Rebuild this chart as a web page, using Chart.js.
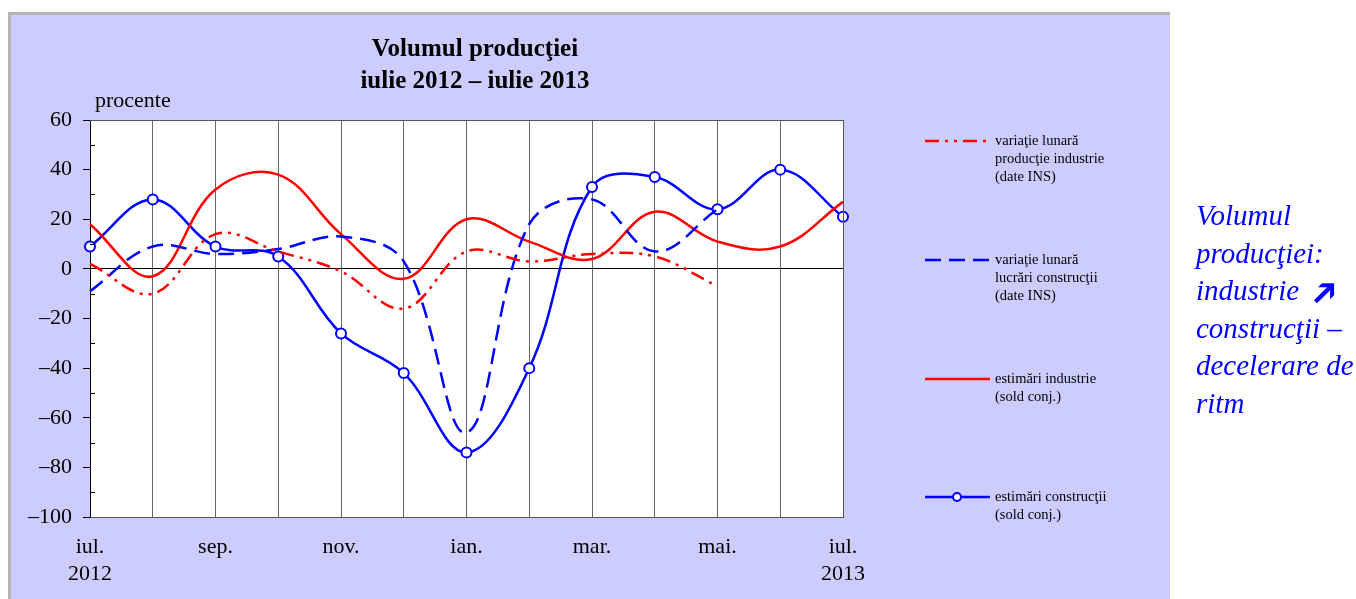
<!DOCTYPE html>
<html>
<head>
<meta charset="utf-8">
<script src="https://cdn.jsdelivr.net/npm/chart.js@4.4.1/dist/chart.umd.min.js"></script>
<style>
    body { margin: 0; background: #ffffff; width: 1356px; height: 599px; overflow: hidden; position: relative; }
    #panel { position: absolute; left: 8px; top: 12px; width: 1162px; height: 600px; background: #ccccff;
             border-top: 3px solid #b4b4b4; border-left: 3px solid #b4b4b4; box-sizing: border-box; }
    #wrap { position: absolute; left: 0; top: 0; width: 1356px; height: 599px; }
    #nota { position: absolute; left: 1196px; top: 197px; width: 170px; color: #0000ff; white-space: nowrap;
            font-family: "Liberation Serif", serif; font-style: italic; font-size: 29px; line-height: 37.5px; }
    #nota .sageata { display: inline-block; transform: rotate(-45deg) scale(1.5); margin-left: 8px;
                     font-family: "DejaVu Sans", sans-serif; font-style: normal; font-weight: bold; font-size: 24px; line-height: 20px; }
</style>
</head>
<body>
<div id="panel"></div>
<div id="wrap"><canvas id="chartVolumProductie" width="1356" height="599"></canvas></div>
<div id="nota">Volumul<br>producţiei:<br>industrie <span class="sageata">➔</span><br>construcţii –<br>decelerare de<br>ritm</div>

<script>
// luni iul. 2012 - iul. 2013
var luni = ['iul.2012', 'aug.', 'sep.', 'oct.', 'nov.', 'dec.', 'ian.', 'feb.', 'mar.', 'apr.', 'mai.', 'iun.', 'iul.2013'];
var etichete = [['iul.', '2012'], '', 'sep.', '', 'nov.', '', 'ian.', '', 'mar.', '', 'mai.', '', ['iul.', '2013']];

var variatieIndustrie = [2, -10, 14, 7, -1, -16, 7, 3, 6, 5, -7, null, null];
var variatieConstructii = [-9, 9, 6, 8, 13, 3, -66, 18, 28, 7, 24, null, null];
var estimariIndustrie = [18, -3, 32, 38, 14, -4, 20, 11, 4, 23, 11, 9, 27];
var estimariConstructii = [9, 28, 9, 5, -26, -42, -74, -40, 33, 37, 24, 40, 21];

var legendaTexte = [
    ['variaţie lunară', 'producţie industrie', '(date INS)'],
    ['variaţie lunară', 'lucrări construcţii', '(date INS)'],
    ['estimări industrie', '(sold conj.)'],
    ['estimări construcţii', '(sold conj.)']
];

var serif = '"Liberation Serif", "Times New Roman", serif';

// fundal alb, chenar, liniute minore, titlu si legenda
var pluginDesen = {
    id: 'desen',
    beforeDraw: function (chart) {
        var ctx = chart.ctx, a = chart.chartArea;
        ctx.save();
        ctx.fillStyle = '#ffffff';
        ctx.fillRect(a.left, a.top, a.right - a.left, a.bottom - a.top);
        ctx.restore();
    },
    afterDraw: function (chart) {
        var ctx = chart.ctx, a = chart.chartArea;
        var y = chart.scales.y;
        ctx.save();
        ctx.strokeStyle = '#555555';
        ctx.lineWidth = 1;
        ctx.beginPath();
        ctx.moveTo(a.left, a.top + 0.5);
        ctx.lineTo(a.right + 0.5, a.top + 0.5);
        ctx.lineTo(a.right + 0.5, a.bottom);
        ctx.stroke();

        ctx.strokeStyle = '#000000';
        ctx.beginPath();
        for (var v = -90; v < 60; v += 20) {
            var py = Math.round(y.getPixelForValue(v)) + 0.5;
            ctx.moveTo(a.left, py);
            ctx.lineTo(a.left + 5, py);
        }
        ctx.stroke();

        ctx.fillStyle = '#000000';
        ctx.textAlign = 'center';
        ctx.textBaseline = 'middle';
        ctx.font = 'bold 25px ' + serif;
        ctx.fillText('Volumul producţiei', 475, 50);
        ctx.fillText('iulie 2012 – iulie 2013', 475, 82);
        ctx.textAlign = 'left';
        ctx.font = '22px ' + serif;
        ctx.fillText('procente', 95, 101);

        var randuri = [141, 260, 379, 497];
        ctx.font = '14.5px ' + serif;
        chart.data.datasets.forEach(function (ds, i) {
            var ly = randuri[i];
            ctx.strokeStyle = ds.borderColor;
            ctx.lineWidth = ds.borderWidth;
            ctx.setLineDash(ds.borderDash || []);
            ctx.beginPath();
            ctx.moveTo(925, ly);
            ctx.lineTo(990, ly);
            ctx.stroke();
            ctx.setLineDash([]);
            if (ds.pointRadius > 0) {
                ctx.beginPath();
                ctx.arc(957, ly, 4, 0, Math.PI * 2);
                ctx.fillStyle = '#ffffff';
                ctx.fill();
                ctx.lineWidth = 2;
                ctx.stroke();
            }
            ctx.fillStyle = '#000000';
            legendaTexte[i].forEach(function (t, k) {
                ctx.fillText(t, 995, ly + k * 18);
            });
        });
        ctx.restore();
    }
};

var $chartVolum = new Chart(document.getElementById('chartVolumProductie').getContext('2d'), {
    type: 'line',
    data: {
        labels: luni,
        datasets: [{
            data: variatieIndustrie,
            borderColor: '#ff0000',
            borderWidth: 2.5,
            borderDash: [14, 6, 3, 6, 3, 6],
            pointRadius: 0,
            tension: 0.38,
            fill: false
        }, {
            data: variatieConstructii,
            borderColor: '#0000ff',
            borderWidth: 2.5,
            borderDash: [16, 8],
            pointRadius: 0,
            tension: 0.38,
            fill: false
        }, {
            data: estimariIndustrie,
            borderColor: '#ff0000',
            borderWidth: 2.5,
            pointRadius: 0,
            tension: 0.38,
            fill: false
        }, {
            data: estimariConstructii,
            borderColor: '#0000ff',
            borderWidth: 2.5,
            pointRadius: 5,
            pointBackgroundColor: '#ffffff',
            pointBorderColor: '#0000ff',
            pointBorderWidth: 2,
            tension: 0.38,
            fill: false
        }]
    },
    options: {
        responsive: false,
        animation: false,
        layout: { padding: { left: 0, top: 120, right: 513, bottom: 0 } },
        plugins: {
            legend: { display: false },
            title: { display: false },
            tooltip: { enabled: false }
        },
        scales: {
            x: {
                offset: false,
                grid: { color: '#666666', lineWidth: 1, drawTicks: false, offset: false },
                border: { color: '#555555' },
                ticks: {
                    autoSkip: false,
                    maxRotation: 0,
                    padding: 17,
                    color: '#000000',
                    font: { family: serif, size: 22, lineHeight: 1.22 },
                    callback: function (val, i) { return etichete[i]; }
                },
                afterFit: function (scale) { scale.height = 82; }
            },
            y: {
                min: -100,
                max: 60,
                ticks: {
                    stepSize: 20,
                    padding: 11,
                    color: '#000000',
                    font: { family: serif, size: 22 },
                    callback: function (v) { return v < 0 ? '–' + Math.abs(v) : v; }
                },
                grid: {
                    tickLength: 7,
                    tickColor: '#000000',
                    color: function (c) { return c.tick && c.tick.value === 0 ? '#000000' : 'rgba(0,0,0,0)'; }
                },
                border: { color: '#000000' },
                afterFit: function (scale) { scale.width = 90; }
            }
        }
    },
    plugins: [pluginDesen]
});
</script>
</body>
</html>
